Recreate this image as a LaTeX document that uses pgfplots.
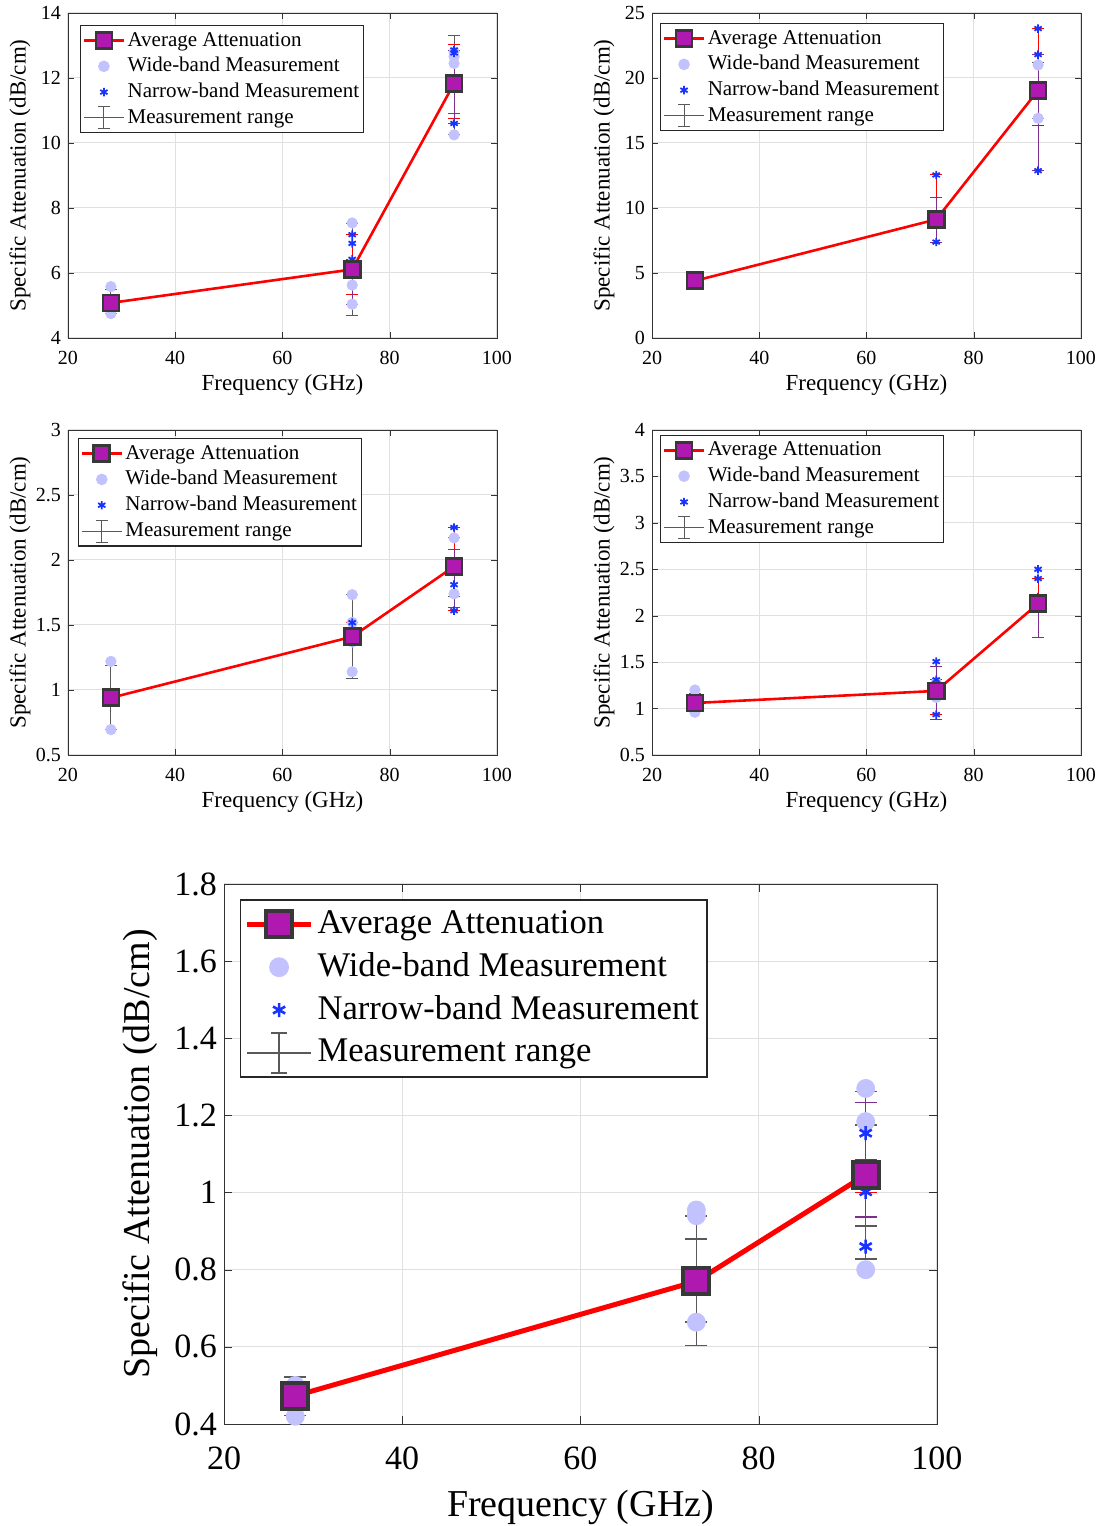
\documentclass[border=0pt]{standalone}
\usepackage{pgfplots}
\pgfplotsset{compat=1.18}
\usepackage{fontspec}
\setmainfont{Liberation Serif}

\definecolor{avgfill}{rgb}{0.69,0.10,0.69}
\definecolor{avgedge}{rgb}{0.22,0.22,0.22}
\definecolor{widec}{rgb}{0.76,0.76,1}
\definecolor{narrowc}{rgb}{0.1,0.2,1}
\definecolor{rangec}{rgb}{0.35,0.35,0.35}
\definecolor{purpc}{rgb}{0.49,0.18,0.56}

\tikzset{
  avgS/.style={red, line width=1.3pt, mark=square*, mark size=4pt, mark options={fill=avgfill, draw=avgedge, line width=1.3pt, solid}},
  wideS/.style={mark=*, mark size=2.6pt, mark options={fill=widec, draw=widec, solid}},
  narrowS/.style={mark=asterisk, mark size=2.1pt, mark options={draw=narrowc, line width=0.9pt, solid}},
  avgB/.style={red, line width=2.5pt, mark=square*, mark size=6.5pt, mark options={fill=avgfill, draw=avgedge, line width=2pt, solid}},
  wideB/.style={mark=*, mark size=4.5pt, mark options={fill=widec, draw=widec, solid}},
  narrowB/.style={mark=asterisk, mark size=3.5pt, mark options={draw=narrowc, line width=1.3pt, solid}},
}

\pgfplotsset{
  base/.style={
    scale only axis, xmin=20, xmax=100, xtick={20,40,60,80,100},
    grid=major, grid style={color=black!12, line width=0.5pt},
    axis line style={color=black!80}, tick style={color=black!80},
    tick align=inside, major tick length=3pt,
    /pgf/number format/assume math mode=true,
    xticklabel={\pgfmathprintnumber{\tick}},
    yticklabel={\pgfmathprintnumber{\tick}},
    xlabel={Frequency (GHz)}, ylabel={Specific Attenuation (dB/cm)},
    legend cell align=left,
    legend style={anchor=north west, draw=black!85, fill=white, line width=0.6pt},
  },
  small/.style={base, width=214.5pt, height=162.5pt,
    tick label style={font=\rmfamily\fontsize{10}{12}\selectfont},
    xticklabel style={yshift=-3pt},
    label style={font=\fontsize{11.5}{13}\selectfont},
    x label style={at={(axis description cs:0.5,-0.145)}, anchor=center},
    y label style={at={(axis description cs:-0.112,0.5)}, anchor=center},
    legend style={font=\fontsize{10.5}{12}\selectfont, inner xsep=1pt, inner ysep=1pt,
      nodes={inner sep=1.2pt, text height=8pt, text depth=2.5pt}},
  },
  big/.style={base, width=356.5pt, height=270pt,
    tick label style={font=\rmfamily\fontsize{17}{19}\selectfont},
    xticklabel style={yshift=-8pt},
    label style={font=\fontsize{19}{22}\selectfont},
    x label style={at={(axis description cs:0.5,-0.155)}, anchor=center},
    y label style={at={(axis description cs:-0.118,0.5)}, anchor=center},
    major tick length=4pt,
    legend style={font=\fontsize{17.3}{20}\selectfont, inner xsep=2pt, inner ysep=1.5pt, line width=0.9pt,
      nodes={inner sep=2pt, text height=13.2pt, text depth=4.2pt}},
  },
  avglegS/.style={legend image code/.code={\draw[avgS, mark repeat=2, mark phase=2] plot coordinates {(0pt,0pt) (10pt,0pt) (20pt,0pt)};}},
  widelegS/.style={legend image code/.code={\draw[wideS, only marks] plot coordinates {(10pt,0pt)};}},
  narrowlegS/.style={legend image code/.code={\draw[narrowS, only marks] plot coordinates {(10pt,0pt)};}},
  rangelegS/.style={legend image code/.code={\draw[rangec, line width=0.5pt] (0pt,0pt) -- (20pt,0pt) (10pt,-5.5pt) -- (10pt,5.5pt) (7pt,5.5pt) -- (13pt,5.5pt) (7pt,-5.5pt) -- (13pt,-5.5pt);}},
  avglegB/.style={legend image code/.code={\draw[avgB, mark repeat=2, mark phase=2] plot coordinates {(0pt,0pt) (16pt,0pt) (32pt,0pt)};}},
  widelegB/.style={legend image code/.code={\draw[wideB, only marks] plot coordinates {(16pt,0pt)};}},
  narrowlegB/.style={legend image code/.code={\draw[narrowB, only marks] plot coordinates {(16pt,0pt)};}},
  rangelegB/.style={legend image code/.code={\draw[rangec, line width=0.8pt] (0pt,0pt) -- (32pt,0pt) (16pt,-10pt) -- (16pt,10pt) (12pt,10pt) -- (20pt,10pt) (12pt,-10pt) -- (20pt,-10pt);}},
  ebS/.style={forget plot, draw=none, mark=none, error bars/y dir=both, error bars/y explicit,
    error bars/error bar style={draw=#1, line width=0.5pt, solid},
    error bars/error mark options={draw=#1, line width=0.5pt, mark size=3pt, rotate=90}},
  ebB/.style={forget plot, draw=none, mark=none, error bars/y dir=both, error bars/y explicit,
    error bars/error bar style={draw=#1, line width=0.8pt, solid},
    error bars/error mark options={draw=#1, line width=0.8pt, mark size=5.5pt, rotate=90}},
}

\begin{document}
\begin{tikzpicture}
\path[use as bounding box] (0,0) rectangle (552pt,763pt);

% ---------- Panel 1 ----------
\begin{axis}[small, at={(34pt,594pt)}, anchor=south west,
  ymin=4, ymax=14, ytick={4,6,8,10,12,14},
  legend style={at={(axis description cs:0.028,0.963)}}]
\addlegendimage{avglegS}\addlegendentry{Average Attenuation}
\addlegendimage{widelegS}\addlegendentry{Wide-band Measurement}
\addlegendimage{narrowlegS}\addlegendentry{Narrow-band Measurement}
\addlegendimage{rangelegS}\addlegendentry{Measurement range}
\addplot[forget plot, only marks, wideS] coordinates {(28,5.58)(28,4.75)(28,5.0)(73,7.54)(73,5.63)(73,5.04)(73,6.3)(92,12.8)(92,12.66)(92,12.45)(92,10.25)};
\addplot[ebS=rangec] coordinates {(28,5.13) +- (0,0.37) (73,6.10) +- (0,1.42) (92,11.795) +- (0,1.525) (92,11.885) +- (0,0.975)};
\addplot[ebS=red] coordinates {(73,6.265) +- (0,0.925) (92,11.89) +- (0,1.13)};
\addplot[ebS=purpc] coordinates {(73,5.73) +- (0,0.69) (92,11.73) +- (0,1.13)};
\addplot[forget plot, only marks, narrowS] coordinates {(73,7.18)(73,6.91)(73,6.42)(92,12.86)(92,12.77)(92,10.6)};
\addplot[forget plot, avgS] coordinates {(28,5.08)(73,6.11)(92,11.83)};
\end{axis}

% ---------- Panel 2 ----------
\begin{axis}[small, at={(326pt,594pt)}, anchor=south west,
  ymin=0, ymax=25, ytick={0,5,10,15,20,25},
  legend style={at={(axis description cs:0.019,0.969)}}]
\addlegendimage{avglegS}\addlegendentry{Average Attenuation}
\addlegendimage{widelegS}\addlegendentry{Wide-band Measurement}
\addlegendimage{narrowlegS}\addlegendentry{Narrow-band Measurement}
\addlegendimage{rangelegS}\addlegendentry{Measurement range}
\addplot[forget plot, only marks, wideS] coordinates {(92,21.0)(92,16.9)};
\addplot[ebS=rangec] coordinates {(92,19.015) +- (0,2.165)};
\addplot[ebS=red] coordinates {(73,9.96) +- (0,2.58) (92,20.09) +- (0,3.71)};
\addplot[ebS=purpc] coordinates {(73,9.09) +- (0,1.71) (92,17.335) +- (0,4.465)};
\addplot[forget plot, only marks, narrowS] coordinates {(73,12.54)(73,7.38)(92,23.8)(92,21.8)(92,12.87)};
\addplot[forget plot, avgS] coordinates {(28,4.4)(73,9.12)(92,19.05)};
\end{axis}

% ---------- Panel 3 ----------
\begin{axis}[small, at={(34pt,385.5pt)}, anchor=south west,
  ymin=0.5, ymax=3, ytick={0.5,1,1.5,2,2.5,3},
  legend style={at={(axis description cs:0.023,0.975)}}]
\addlegendimage{avglegS}\addlegendentry{Average Attenuation}
\addlegendimage{widelegS}\addlegendentry{Wide-band Measurement}
\addlegendimage{narrowlegS}\addlegendentry{Narrow-band Measurement}
\addlegendimage{rangelegS}\addlegendentry{Measurement range}
\addplot[forget plot, only marks, wideS] coordinates {(28,1.22)(28,0.695)(73,1.733)(73,1.14)(73,1.52)(73,1.37)(92,2.17)(92,1.74)};
\addplot[ebS=rangec] coordinates {(28,0.9425) +- (0,0.2475) (73,1.4115) +- (0,0.3215) (92,1.945) +- (0,0.225)};
\addplot[ebS=red] coordinates {(73,1.444) +- (0,0.074) (92,1.93) +- (0,0.32)};
\addplot[ebS=purpc] coordinates {(92,1.8575) +- (0,0.2225)};
\addplot[forget plot, only marks, narrowS] coordinates {(73,1.518)(73,1.37)(92,2.25)(92,1.81)(92,1.61)};
\addplot[forget plot, avgS] coordinates {(28,0.94)(73,1.41)(92,1.95)};
\end{axis}

% ---------- Panel 4 ----------
\begin{axis}[small, at={(326pt,385.5pt)}, anchor=south west,
  ymin=0.5, ymax=4, ytick={0.5,1,1.5,2,2.5,3,3.5,4},
  legend style={at={(axis description cs:0.019,0.985)}}]
\addlegendimage{avglegS}\addlegendentry{Average Attenuation}
\addlegendimage{widelegS}\addlegendentry{Wide-band Measurement}
\addlegendimage{narrowlegS}\addlegendentry{Narrow-band Measurement}
\addlegendimage{rangelegS}\addlegendentry{Measurement range}
\addplot[forget plot, only marks, wideS] coordinates {(28,1.20)(28,0.96)(73,1.12)(73,1.28)};
\addplot[ebS=rangec] coordinates {(28,1.0675) +- (0,0.0975)};
\addplot[ebS=red] coordinates {(73,1.1225) +- (0,0.1875) (92,2.30) +- (0,0.10)};
\addplot[ebS=purpc] coordinates {(73,1.1675) +- (0,0.2875) (92,1.98) +- (0,0.22)};
\addplot[forget plot, only marks, narrowS] coordinates {(73,1.506)(73,1.31)(73,0.935)(92,2.50)(92,2.40)(92,2.2)};
\addplot[forget plot, avgS] coordinates {(28,1.06)(73,1.19)(92,2.13)};
\end{axis}

% ---------- Panel 5 ----------
\begin{axis}[big, at={(112pt,51pt)}, anchor=south west,
  ymin=0.4, ymax=1.8, ytick={0.4,0.6,0.8,1,1.2,1.4,1.6,1.8},
  legend style={at={(axis description cs:0.022,0.972)}}]
\addlegendimage{avglegB}\addlegendentry{Average Attenuation}
\addlegendimage{widelegB}\addlegendentry{Wide-band Measurement}
\addlegendimage{narrowlegB}\addlegendentry{Narrow-band Measurement}
\addlegendimage{rangelegB}\addlegendentry{Measurement range}
\addplot[forget plot, only marks, wideB] coordinates {(28,0.42)(28,0.50)(73,0.955)(73,0.94)(73,0.664)(92,1.27)(92,1.184)(92,0.80)};
\addplot[ebB=rangec] coordinates {(28,0.472) +- (0,0.05) (73,0.772) +- (0,0.168) (73,0.772) +- (0,0.108) (92,1.0445) +- (0,0.2175) (92,1.044) +- (0,0.131)};
\addplot[ebB=red] coordinates {(92,1.042) +- (0,0.042)};
\addplot[ebB=purpc] coordinates {(92,1.085) +- (0,0.149)};
\addplot[forget plot, only marks, narrowB] coordinates {(92,1.154)(92,1.002)(92,0.86)};
\addplot[forget plot, avgB] coordinates {(28,0.473)(73,0.77)(92,1.046)};
\end{axis}
\end{tikzpicture}
\end{document}
